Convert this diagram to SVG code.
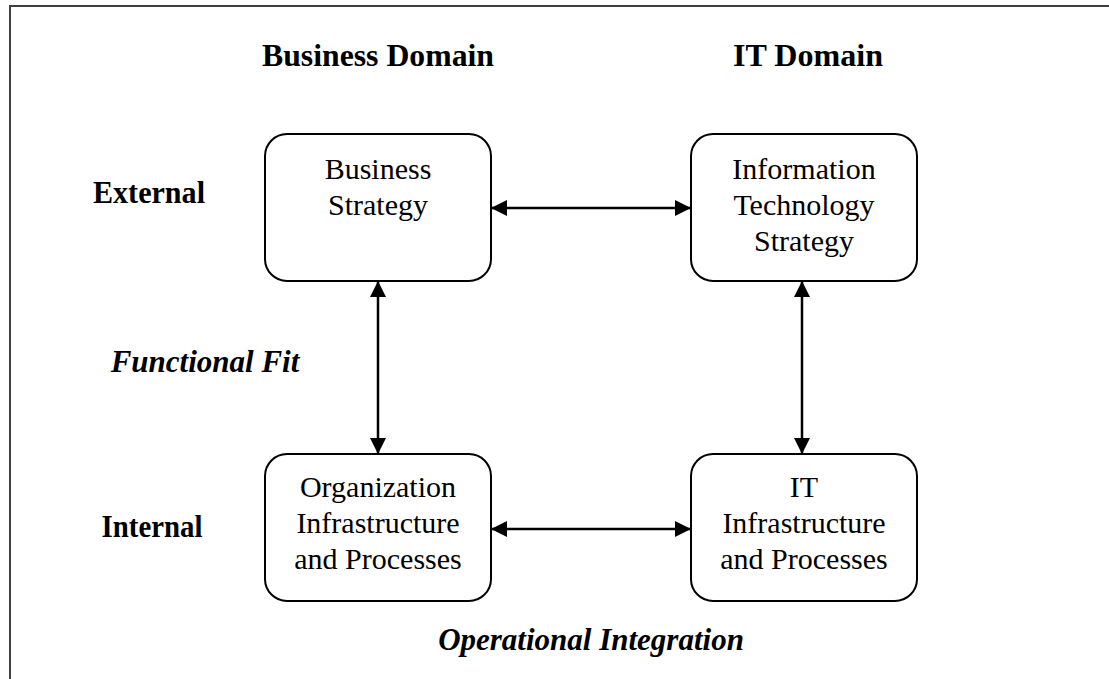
<svg xmlns="http://www.w3.org/2000/svg" width="1109" height="679" viewBox="0 0 1109 679">
<style>
.box{fill:#fff;stroke:#000;stroke-width:2}
.t{font-family:"Liberation Serif",serif;font-size:30px;fill:#000;text-anchor:middle}
.h{font-family:"Liberation Serif",serif;font-size:31px;font-weight:bold;fill:#000;text-anchor:middle}
.hi{font-family:"Liberation Serif",serif;font-size:31px;font-weight:bold;font-style:italic;fill:#000;text-anchor:middle}
.c{stroke:#000;stroke-width:2.5;fill:none;marker-start:url(#a);marker-end:url(#a)}
</style>
<defs>
<marker id="a" viewBox="0 0 16 16" refX="16" refY="8" markerWidth="16" markerHeight="16" markerUnits="userSpaceOnUse" orient="auto-start-reverse">
<path d="M0,0 L16,8 L0,16 Z" fill="#000"/>
</marker>
</defs>
<rect width="1109" height="679" fill="#fff"/>
<path d="M10,679 V6 H1109" fill="none" stroke="#404040" stroke-width="2"/>
<g id="labels">
<text class="h" x="378" y="66" textLength="232" lengthAdjust="spacingAndGlyphs">Business Domain</text>
<text class="h" x="808" y="66" textLength="150" lengthAdjust="spacingAndGlyphs">IT Domain</text>
<text class="h" x="149" y="203" textLength="112" lengthAdjust="spacingAndGlyphs">External</text>
<text class="h" x="152" y="537" textLength="101" lengthAdjust="spacingAndGlyphs">Internal</text>
<text class="hi" x="205" y="372">Functional Fit</text>
<text class="hi" x="591" y="650">Operational Integration</text>
</g>
<g id="connectors">
<line class="c" x1="491" y1="208" x2="691" y2="208"/>
<line class="c" x1="491" y1="529" x2="691" y2="529"/>
<line class="c" x1="378" y1="281" x2="378" y2="454"/>
<line class="c" x1="802" y1="281" x2="802" y2="454"/>
</g>
<g id="business-strategy">
<rect class="box" x="265" y="134" width="226" height="147" rx="22"/>
<text class="t" x="378" y="179">Business</text>
<text class="t" x="378" y="215">Strategy</text>
</g>
<g id="it-strategy">
<rect class="box" x="691" y="134" width="226" height="147" rx="22"/>
<text class="t" x="804" y="179">Information</text>
<text class="t" x="804" y="215">Technology</text>
<text class="t" x="804" y="251">Strategy</text>
</g>
<g id="org-infrastructure">
<rect class="box" x="265" y="454" width="226" height="147" rx="22"/>
<text class="t" x="378" y="497">Organization</text>
<text class="t" x="378" y="533">Infrastructure</text>
<text class="t" x="378" y="569">and Processes</text>
</g>
<g id="it-infrastructure">
<rect class="box" x="691" y="454" width="226" height="147" rx="22"/>
<text class="t" x="804" y="497">IT</text>
<text class="t" x="804" y="533">Infrastructure</text>
<text class="t" x="804" y="569">and Processes</text>
</g>
</svg>
